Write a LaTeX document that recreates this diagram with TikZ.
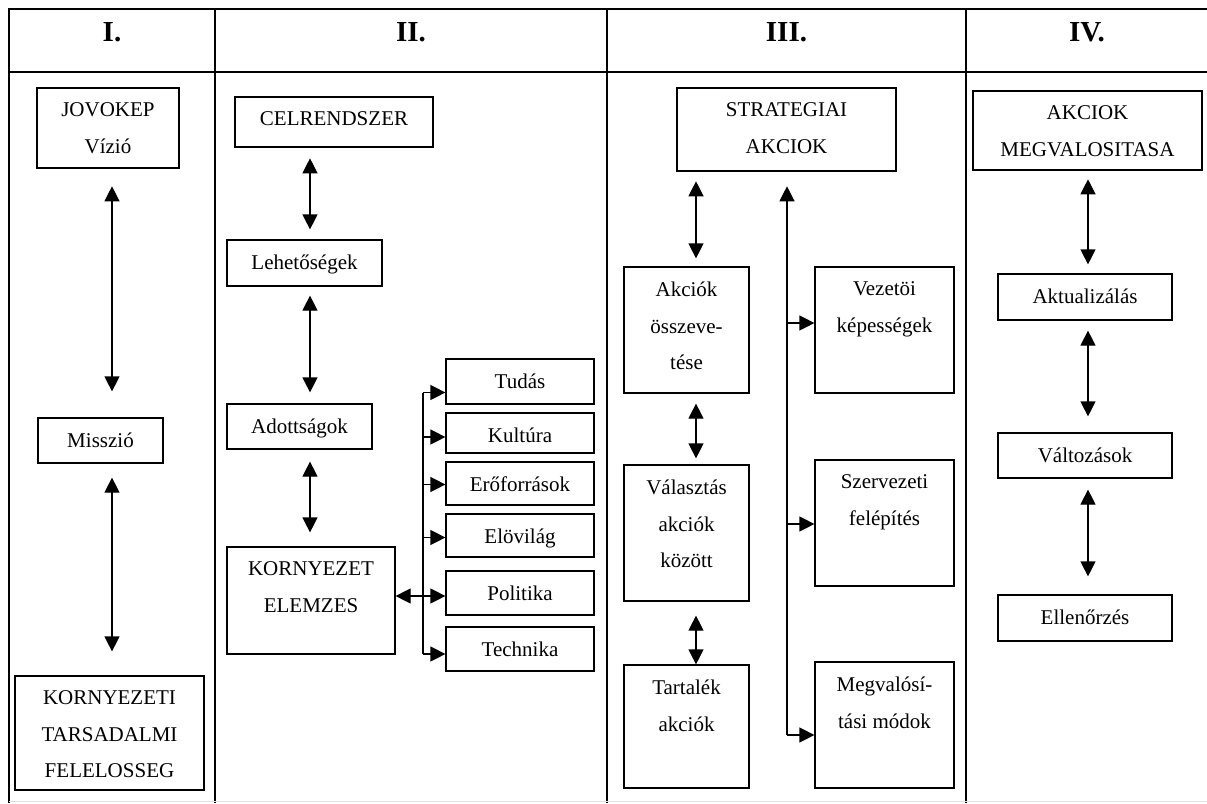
\documentclass[tikz,border=0pt]{standalone}
\usepackage{fontspec}
\setmainfont{Liberation Serif}
\usetikzlibrary{arrows.meta}
\newcommand{\celltext}[3]{\parbox[c][#2][t]{#1}{\centering\vspace*{15pt}#3\par}}
\tikzset{
  cell/.style={draw, line width=1.2pt, inner sep=0pt},
  cellthick/.style={cell, line width=2.6pt},
  frame/.style={line width=2.6pt},
  head/.style={anchor=base, font=\fontsize{29}{30}\selectfont\bfseries},
  bi/.style={{Triangle[length=15pt,width=15pt]}-{Triangle[length=15pt,width=15pt]}, line width=1.2pt, shorten <=10pt, shorten >=10pt},
  tip/.style={-{Triangle[length=15pt,width=15pt]}, line width=1.2pt},
}
\begin{document}
\begin{tikzpicture}[x=1pt, y=-1pt, every node/.style={font=\fontsize{21}{36.5}\selectfont}]
    \useasboundingbox (0,0) rectangle (1207,803);

    \draw[frame] (9,803) -- (9,9) -- (1207,9);
    \draw[frame] (9,72) -- (1207,72);
    \draw[frame] (215,9) -- (215,803);
    \draw[frame] (607,9) -- (607,803);
    \draw[frame] (966,9) -- (966,803);
    \draw[gray!25, line width=1pt] (9,801.5) -- (1207,801.5);

    \node[head] (hI) at (112,41) {I.};
    \node[head] (hII) at (411,41) {II.};
    \node[head] (hIII) at (786.5,41) {III.};
    \node[head] (hIV) at (1087,41) {IV.};

    \coordinate (axI) at (112,0);
    \coordinate (axII) at (310,0);
    \coordinate (axIII) at (696,0);
    \coordinate (axIV) at (1088,0);

    \node[cellthick] (jovokep) at (108,128) {\celltext{142pt}{80pt}{JOVOKEP\\Vízió}};
    \node[cell] (misszio) at (100.5,440.5) {\celltext{125pt}{45pt}{Misszió}};
    \node[cell] (felelos) at (109.5,733) {\celltext{189pt}{114pt}{KORNYEZETI\\TARSADALMI\\FELELOSSEG}};

    \draw[bi, shorten <=17pt, shorten >=26pt] (jovokep.south -| axI) -- (misszio.north -| axI);
    \draw[bi, shorten <=14pt, shorten >=24pt] (misszio.south -| axI) -- (felelos.north -| axI);

    \node[cellthick] (celr) at (334,122) {\celltext{198pt}{50pt}{CELRENDSZER}};
    \node[cell] (lehet) at (304.5,263) {\celltext{155pt}{46pt}{Lehetőségek}};
    \node[cell] (adott) at (299.5,426.5) {\celltext{145pt}{45pt}{Adottságok}};
    \node[cell] (kornyel) at (311,600.5) {\celltext{168pt}{107pt}{KORNYEZET\\ELEMZES}};
    \node[cell] (tudas) at (520,381.5) {\celltext{148pt}{45pt}{Tudás}};
    \node[cell] (kultura) at (520,433) {\celltext{148pt}{40pt}{Kultúra}};
    \node[cell] (erof) at (520,483.5) {\celltext{148pt}{43pt}{Erőforrások}};
    \node[cell] (elov) at (520,535.5) {\celltext{148pt}{43pt}{Elövilág}};
    \node[cell] (polit) at (520,593) {\celltext{148pt}{44pt}{Politika}};
    \node[cell] (techn) at (520,649) {\celltext{148pt}{44pt}{Technika}};

    \draw[bi] (celr.south -| axII) -- (lehet.north -| axII);
    \draw[bi, shorten <=9pt, shorten >=11pt] (lehet.south -| axII) -- (adott.north -| axII);
    \draw[bi, shorten <=12pt, shorten >=14pt] (adott.south -| axII) -- (kornyel.north -| axII);

    \coordinate (fork) at (423,0);
    \coordinate (forktop) at ([yshift=-11pt]tudas.west);
    \coordinate (forkbot) at ([yshift=-5pt]techn.west);
    \draw[line width=1.2pt] (forktop -| fork) -- (forkbot -| fork);
    \foreach \b/\s in {tudas/-11, kultura/-4, erof/-1, elov/-2, polit/-3, techn/-5} {
      \coordinate (in) at ([yshift=\s pt]\b.west);
      \draw[tip] (in -| fork) -- (in);
    }
    \coordinate (polin) at ([yshift=-3pt]polit.west);
    \draw[tip] (polin -| fork) -- (polin -| kornyel.east);

    \node[cellthick] (strat) at (786.5,129.5) {\celltext{219pt}{83pt}{STRATEGIAI\\AKCIOK}};
    \node[cell] (akcossz) at (686.5,330) {\celltext{125pt}{126pt}{Akciók\\összeve-\\tése}};
    \node[cell] (valasz) at (686.5,533) {\celltext{125pt}{136pt}{Választás\\akciók\\között}};
    \node[cell] (tartalek) at (686.5,726.5) {\celltext{125pt}{123pt}{Tartalék\\akciók}};
    \node[cell] (vezet) at (884.5,330) {\celltext{139pt}{126pt}{Vezetöi\\képességek}};
    \node[cell] (szerv) at (884.5,523) {\celltext{139pt}{126pt}{Szervezeti\\felépítés}};
    \node[cell] (megv) at (884.5,725) {\celltext{139pt}{126pt}{Megvalósí-\\tási módok}};

    \draw[bi, shorten <=9pt, shorten >=8pt] (strat.south -| axIII) -- (akcossz.north -| axIII);
    \draw[bi, shorten <=10pt, shorten >=6pt] (akcossz.south -| axIII) -- (valasz.north -| axIII);
    \draw[bi, shorten <=14pt, shorten >=0pt] (valasz.south -| axIII) -- (tartalek.north -| axIII);

    \coordinate (trunk) at (787,735);
    \draw[tip, shorten >=14pt] (trunk) -- (trunk |- strat.south);
    \foreach \b/\s in {vezet/7, szerv/-1, megv/-10} {
      \coordinate (in) at ([yshift=\s pt]\b.west);
      \draw[tip] (in -| trunk) -- (in);
    }

    \node[cellthick] (akcmeg) at (1087.5,130.5) {\celltext{229pt}{79pt}{AKCIOK\\MEGVALOSITASA}};
    \node[cell] (aktual) at (1085,297) {\celltext{174pt}{46pt}{Aktualizálás}};
    \node[cell] (valtoz) at (1085,455.5) {\celltext{174pt}{45pt}{Változások}};
    \node[cell] (ellen) at (1085,618) {\celltext{174pt}{46pt}{Ellenőrzés}};

    \draw[bi, shorten <=8pt, shorten >=9pt] (akcmeg.south -| axIV) -- (aktual.north -| axIV);
    \draw[bi, shorten <=10pt, shorten >=16pt] (aktual.south -| axIV) -- (valtoz.north -| axIV);
    \draw[bi, shorten <=11pt, shorten >=18pt] (valtoz.south -| axIV) -- (ellen.north -| axIV);
  \end{tikzpicture}
\end{document}
